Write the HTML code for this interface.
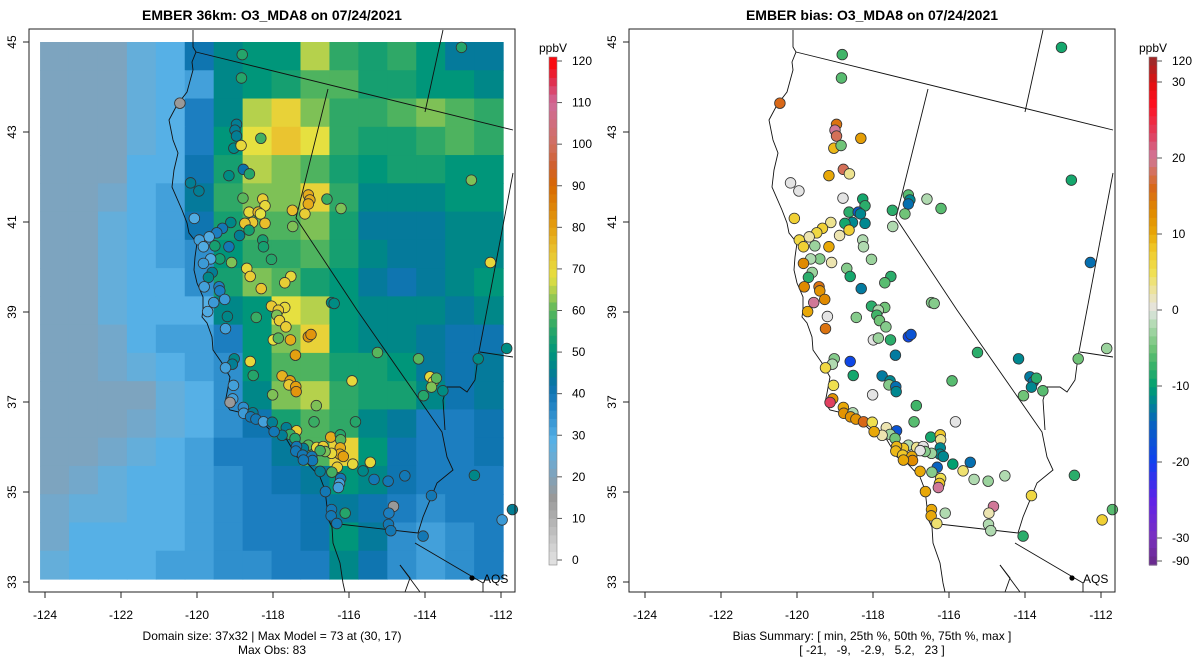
<!DOCTYPE html>
<html><head><meta charset="utf-8"><style>
body{margin:0;background:#fff;}
svg{display:block;font-family:"Liberation Sans",sans-serif;}
.pre{white-space:pre;}
</style></head><body>
<svg id="fig" width="1200" height="672" viewBox="0 0 1200 672">
<g id="left"></g>
<g id="right"></g>
</svg>
<script>
const modelGrid = [
[21,21,21,26,29,41,47,50,50,65,56,53,56,50,44,44],
[21,21,21,26,29,32,47,50,53,59,59,53,53,50,50,47],
[21,21,21,26,29,38,47,65,71,62,56,56,59,62,59,56],
[21,21,21,26,29,38,50,68,74,68,56,53,53,56,59,56],
[21,21,21,29,29,41,53,65,62,59,53,50,53,53,50,50],
[21,21,23,29,32,44,56,62,62,71,56,47,47,47,50,50],
[21,21,26,29,32,41,53,59,59,62,53,44,44,44,47,47],
[21,21,26,29,32,35,50,56,56,59,53,47,44,44,47,47],
[21,21,26,29,29,35,53,62,59,53,50,44,41,44,47,50],
[21,21,26,29,29,29,47,50,68,65,50,47,47,47,44,47],
[21,21,23,29,32,32,38,50,62,71,50,47,47,44,41,41],
[21,21,23,26,29,32,35,50,59,59,53,53,50,44,41,44],
[21,21,21,21,26,29,35,47,62,65,56,53,53,47,41,44],
[21,21,21,23,26,29,35,41,53,59,56,47,44,38,38,41],
[21,21,23,26,29,32,38,38,44,59,71,50,41,38,38,41],
[21,23,26,29,29,32,35,38,41,44,50,47,41,38,38,38],
[23,26,26,29,29,32,35,38,38,41,44,41,38,35,38,38],
[23,29,29,29,29,32,35,38,38,41,50,44,35,32,35,38],
[26,29,29,29,32,32,35,35,38,38,47,41,35,32,35,38]
];
const stLon = [-118.81,-118.83,-120.45,-118.96,-119.00,-118.96,-118.32,-119.03,-118.84,-118.78,-118.62,-119.16,-120.17,-119.95,-118.79,-118.27,-118.21,-117.07,-117.03,-117.07,-116.58,-116.21,-117.49,-117.16,-118.63,-118.39,-118.33,-118.54,-118.74,-118.21,-118.63,-117.48,-120.07,-119.11,-119.33,-119.48,-119.68,-119.94,-119.83,-119.53,-119.16,-118.88,-118.27,-118.25,-113.04,-112.78,-112.28,-119.40,-119.09,-119.64,-119.83,-119.60,-119.70,-118.04,-118.69,-118.60,-117.53,-117.69,-118.31,-119.81,-119.42,-119.40,-119.27,-119.56,-116.46,-116.39,-118.04,-117.69,
-119.72,-119.20,-118.44,-119.25,-117.86,-117.90,-117.83,-117.66,-117.99,-117.86,-117.54,-117.07,-117.00,-117.41,-119.02,-119.07,-119.25,-118.60,-118.52,-117.76,-117.55,-117.58,-117.40,-117.39,-118.01,-115.92,-116.86,-115.25,-114.17,-112.60,-111.85,-113.87,-113.78,-113.70,-113.83,-114.04,-113.53,-119.04,-119.06,-119.13,-118.78,-118.77,-118.53,-118.59,-118.45,-118.25,-118.02,-116.92,-115.83,-117.65,-117.38,-117.55,-117.76,-117.97,-117.42,-117.07,-116.85,-116.68,-116.48,-116.23,-116.22,-116.23,-116.24,-116.15,-116.46,-116.63,-116.76,-117.20,-117.38,-117.40,-117.22,-116.98,-116.96,-117.20,-115.90,-115.44,-116.31,-116.45,-116.76,-115.63,-116.22,-116.25,-116.28,-115.34,-114.97,-114.53,-112.70,-113.83,-114.83,-114.95,-111.97,-116.62,-116.46,-116.47,-116.10,-116.32,-114.96,-114.90,-114.05,-111.70];
const stLat = [44.72,44.20,43.64,43.17,43.04,42.91,42.86,42.64,42.70,42.17,42.07,42.03,41.87,41.69,41.53,41.51,41.36,41.60,41.49,41.40,41.51,41.30,41.26,41.18,41.22,41.22,41.18,40.99,40.97,40.97,40.82,40.90,41.08,40.99,40.86,40.76,40.67,40.60,40.45,40.47,40.45,40.70,40.60,40.45,44.88,41.93,40.10,40.18,40.10,40.18,40.08,39.88,39.77,40.17,39.97,39.79,39.79,39.65,39.52,39.56,39.56,39.47,39.28,39.21,39.21,39.19,39.13,39.10,
39.01,38.90,38.88,38.63,39.04,38.93,38.81,38.67,38.38,38.42,38.38,38.45,38.50,38.04,37.96,37.84,37.76,37.90,37.59,37.58,37.47,37.38,37.34,37.23,37.16,37.47,36.92,38.10,37.96,37.96,38.19,37.56,37.45,37.53,37.33,37.14,37.25,37.37,37.07,36.99,36.88,36.75,36.76,36.67,36.62,36.56,36.55,36.56,36.56,36.43,36.36,36.28,36.26,36.34,36.19,36.04,35.99,36.01,36.22,36.27,36.16,35.98,35.84,35.79,35.86,35.90,35.92,35.97,36.01,35.91,35.82,35.79,35.70,35.71,35.62,35.66,35.55,35.44,35.46,35.47,35.30,35.19,35.10,35.28,35.24,35.36,35.37,34.92,34.68,34.53,34.38,35.01,34.61,34.47,34.53,34.30,34.28,34.14,34.02,34.61];
const stObs = [55,55,15,45,45,45,58,47,70,42,55,48,45,45,60,72,70,78,78,78,57,62,75,72,70,76,68,73,74,75,53,62,30,47,40,38,30,32,30,53,40,45,53,53,55,62,70,53,62,30,33,45,47,55,70,72,70,72,74,32,38,38,33,33,48,48,73,70,
30,47,57,32,73,62,72,72,68,60,78,82,82,80,47,45,32,70,55,77,80,73,80,82,62,70,62,60,60,48,48,70,68,60,62,55,48,32,32,15,35,33,45,40,40,32,45,57,55,45,72,57,45,40,55,60,70,72,78,55,60,78,78,80,70,62,58,45,40,40,40,40,40,40,70,70,72,58,45,47,40,32,32,40,40,40,47,40,15,38,33,40,40,40,55,40,40,40,40,45];
const stBias = [-7,-6,16,15,20,18,11,9,-5,18,3,10,0,0,0,-9,-8,-6,-12,-14,-2,-6,-8,-5,-8,-16,-12,-12,-9,-12,7,-2,7,3,7,6,2,6,7,-3,10,2,-2,-2,-9,-9,-14,-4,2,-2,13,-3,-8,-3,-4,-9,-8,-6,-13,13,15,12,13,20,-4,-4,-8,-5,
10,0,-4,15,-2,-7,-5,-4,0,-3,-8,-19,-17,-13,-4,-2,6,-19,-9,-13,-12,-4,-14,-12,0,-6,-7,-8,-12,-5,-3,-13,-14,-8,-12,-5,-6,5,12,23,10,12,-2,12,12,16,5,-6,0,2,-17,-3,2,10,-5,-2,3,0,-9,8,3,-12,-12,-12,-3,-4,0,8,9,9,8,10,13,10,-10,-14,-15,-4,10,4,5,8,20,-2,-3,-2,-8,6,20,2,7,10,10,10,-2,4,-2,-2,-8,-6];
const cbTicks = [0,10,20,30,40,50,60,70,80,90,100,110,120];
const biasTicks = [120,30,20,10,0,-10,-20,-30,-90];
const lonTicks = [-124,-122,-120,-118,-116,-114,-112];
const latTicks = [33,35,37,39,41,43,45];

const NS='http://www.w3.org/2000/svg';
function mk(tag, attrs, parent){const e=document.createElementNS(NS,tag);for(const k in attrs)e.setAttribute(k,attrs[k]);parent.appendChild(e);return e;}
function xs(lon,off){return off+45+(lon+124)*38;}
function ys(lat){return 42+(45-lat)*45;}

function hex(c){return [parseInt(c.substr(1,2),16),parseInt(c.substr(3,2),16),parseInt(c.substr(5,2),16)];}
function ramp(stops,v){
  if(v<=stops[0][0])return stops[0][1];
  for(let i=1;i<stops.length;i++){if(v<=stops[i][0]){const a=stops[i-1],b=stops[i];const t=(v-a[0])/(b[0]-a[0]);const A=hex(a[1]),B=hex(b[1]);return 'rgb('+A.map((q,j)=>Math.round(q+(B[j]-q)*t)).join(',')+')';}}
  return stops[stops.length-1][1];
}
const mStops=[[0,'#e0e0e0'],[10,'#b0b0b0'],[15,'#999999'],[19,'#86a0b2'],[22,'#78a6c6'],[26,'#64aeda'],[29,'#56b0e6'],[33,'#3c9ad6'],[38,'#1c7ec0'],[42,'#0a72aa'],[46,'#00828c'],[50,'#00967a'],[55,'#25a56a'],[60,'#58b65c'],[64,'#a4cc50'],[68,'#e6e040'],[74,'#eac430'],[80,'#e4a010'],[90,'#d86800'],[95,'#d06030'],[100,'#d07060'],[110,'#d06a9a'],[115,'#e03050'],[120,'#ff0000']];
const bStops=[[-90,'#6a2a90'],[-30,'#7a30c0'],[-25,'#6020e8'],[-20,'#1040f0'],[-15,'#0862c0'],[-12,'#008890'],[-10,'#00a070'],[-7,'#40b468'],[-5,'#70c478'],[-2,'#b0dab0'],[0,'#e4e4e4'],[2,'#ece4b0'],[5,'#f0e050'],[8,'#f0c828'],[10,'#e8a808'],[13,'#e08a00'],[16,'#d86818'],[20,'#d07898'],[23,'#e04060'],[27,'#ff1020'],[30,'#e01010'],[120,'#a02828']];

const coast=[[193,30],[193,47],[196,52],[192,62],[193,70],[187,92],[177,105],[169,120],[173,140],[178,153],[174,170],[172,187],[182,210],[187,223],[189,233],[197,243],[195,257],[194,270],[197,283],[203,297],[203,310],[202,317],[207,323],[212,337],[213,350],[222,363],[230,377],[227,393],[225,403],[230,410],[243,413],[263,423],[273,433],[287,440],[297,457],[307,463],[320,477],[325,490],[327,507],[327,517],[332,527],[333,543],[340,563],[343,583],[345,592]];
const borders=[
 [[196,52],[513,130]],
 [[443,30],[425,112]],
 [[328,89],[296,218],[357,310],[442,432],[447,457],[453,470],[437,483],[423,517],[418,533]],
 [[330,523],[418,533]],
 [[415,543],[483,583],[483,592]],
 [[480,352],[513,357]],
 [[513,173],[478,357]],
 [[478,357],[475,380],[467,392],[460,387],[447,387],[443,400],[445,430]],
 [[400,565],[410,578],[405,592]],
 [[400,565],[420,592]]
];

function panel(g, off, model){
  const L=off+29,R=off+515,T=29,B=592;
  if(model){
    const cw=(503-40)/16/38, ch=537/19/45;
    modelGrid.forEach((row,r)=>row.forEach((v,c)=>{
      const lon0=-124.13+c*cw, lat0=45-r*ch;
      const x0=xs(lon0,off), x1=xs(lon0+cw,off), y0=ys(lat0), y1=ys(lat0-ch);
      const e=mk('rect',{x:x0,y:y0,width:x1-x0+0.6,height:y1-y0+0.6,fill:ramp(mStops,v)},g);
      
      
    }));
  }
  const cl=mk('polyline',{points:coast.map(p=>(p[0]+off)+','+p[1]).join(' '),fill:'none',stroke:'#111','stroke-width':0.9},g);
  
  
  borders.forEach(b=>{
    const e=mk('polyline',{points:b.map(p=>(p[0]+off)+','+p[1]).join(' '),fill:'none',stroke:'#111','stroke-width':0.9},g);
    
    
  });
  stLon.forEach((lon,i)=>{
    const v= model? stObs[i] : stBias[i];
    const e=mk('circle',{cx:xs(lon,off),cy:ys(stLat[i]),r:5.3,fill:ramp(model?mStops:bStops,v),stroke:'#333','stroke-width':0.8},g);
    
    
  });
  const aq=mk('circle',{cx:off+472,cy:578,r:2.6,fill:'#000'},g);
  
  
  const at=mk('text',{x:off+483,y:583,'font-size':12},g); at.textContent='AQS';
  
  
  const box=mk('rect',{x:L,y:T,width:R-L,height:B-T,fill:'none',stroke:'#222','stroke-width':1},g);
  
  
  lonTicks.forEach(t=>{
    const x=xs(t,off);
    const tk=mk('line',{x1:x,y1:B,x2:x,y2:B+6,stroke:'#222'},g);
    
    
    const tx=mk('text',{x:x,y:619,'font-size':12,'text-anchor':'middle'},g); tx.textContent=t;
    
    
  });
  latTicks.forEach(t=>{
    const y=ys(t);
    const tk=mk('line',{x1:L,y1:y,x2:L-6,y2:y,stroke:'#222'},g);
    
    
    const tx=mk('text',{x:off+12,y:y,'font-size':12,'text-anchor':'middle',transform:'rotate(-90 '+(off+12)+' '+y+')','dominant-baseline':'central'},g); tx.textContent=t;
    
    
  });
  const cx=off+549, top=57, bot=565;
  const N=60;
  if(model){
    for(let i=0;i<N;i++){
      const v0=i*120/N, v=(i+0.5)*120/N;
      const yb=560-v0*(499/120);
      const e=mk('rect',{x:cx,y:(i===N-1?top:yb-499/N-0.3),width:8,height:(i===N-1?yb-top:499/N+0.6),fill:ramp(mStops,v)},g);
      
      
    }
    mk('rect',{x:cx,y:560,width:8,height:5,fill:ramp(mStops,0)},g);
    cbTicks.forEach(t=>{
      const y=560-t*(499/120);
      mk('line',{x1:cx+8,y1:y,x2:cx+13,y2:y,stroke:'#555'},g);
      const tx=mk('text',{x:cx+23,y:y+4,'font-size':12},g); tx.textContent=t;
      
      
    });
  } else {
    const bpos=v=> v>30 ? 84-(v-30)/90*23 : v< -30 ? 537+(-30-v)/60*24 : 310-v*7.6;
    for(let i=0;i<N;i++){
      const ya=top+i*(bot-top)/N, yb=ya+(bot-top)/N;
      const ym=(ya+yb)/2;
      let v; if(ym<84) v=30+(84-ym)/23*90; else if(ym>537) v=-30-(ym-537)/24*60; else v=(310-ym)/7.6;
      const e=mk('rect',{x:cx,y:ya,width:8,height:yb-ya+0.6,fill:ramp(bStops,v)},g);
      
      
    }
    biasTicks.forEach(t=>{
      const y=bpos(t);
      mk('line',{x1:cx+8,y1:y,x2:cx+13,y2:y,stroke:'#555'},g);
      const tx=mk('text',{x:cx+23,y:y+4,'font-size':12},g); tx.textContent=t;
      
      
    });
  }
  mk('rect',{x:cx,y:top,width:8,height:bot-top,fill:'none',stroke:'#888','stroke-width':0.6},g);
  const un=mk('text',{x:cx+4,y:52,'font-size':12,'text-anchor':'middle'},g); un.textContent='ppbV';
  
  
  const ti=mk('text',{x:off+272,y:20,'font-size':14,'font-weight':'bold','text-anchor':'middle'},g);
  ti.textContent= model ? 'EMBER 36km: O3_MDA8 on 07/24/2021' : 'EMBER bias: O3_MDA8 on 07/24/2021';
  
  
  const s1=mk('text',{x:off+272,y:640,'font-size':12,'text-anchor':'middle'},g);
  s1.textContent= model ? 'Domain size: 37x32 | Max Model = 73 at (30, 17)' : 'Bias Summary: [ min, 25th %, 50th %, 75th %, max ]';
  
  
  const s2=mk('text',{x:off+272,y:654,'font-size':12,'text-anchor':'middle','class':'pre'},g);
  s2.textContent= model ? 'Max Obs: 83' : '[ -21,   -9,   -2.9,   5.2,   23 ]';
  
  
}
panel(document.getElementById('left'),0,true);
panel(document.getElementById('right'),600,false);
</script>
</body></html>
